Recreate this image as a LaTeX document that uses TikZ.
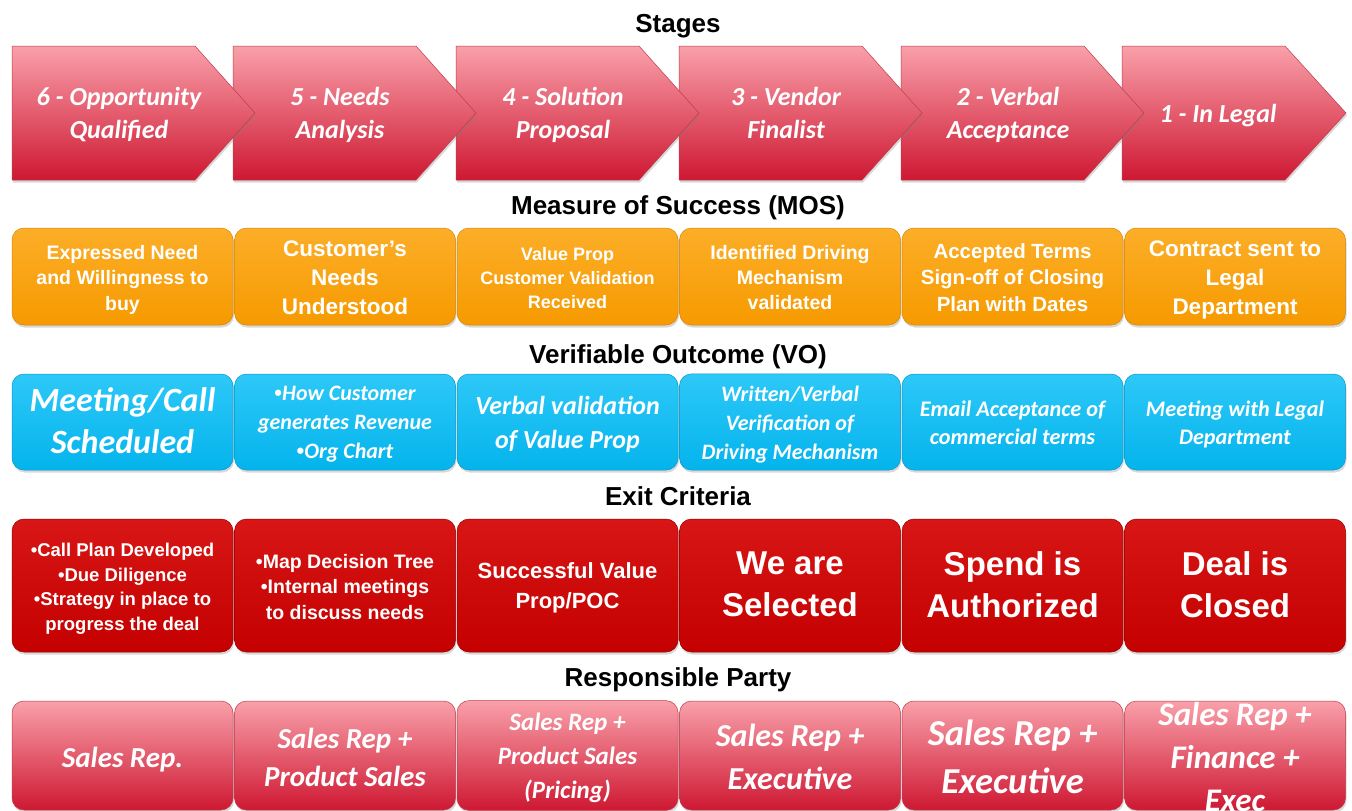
\documentclass[tikz,border=0pt]{standalone}
\usepackage{fontspec}
\setmainfont{Liberation Sans}
\newfontfamily\calib{Carlito}
\usetikzlibrary{shadows}

\newcommand{\fs}[2]{\fontsize{#1}{#2}\selectfont}
\newcommand{\bul}{{\rmfamily\upshape •}}
% extra room above the text, so that it sits a little below the middle
\newdimen\textdrop
\textdrop=10pt

% colours of the five bands
\definecolor{pinktop}{RGB}{249,160,170}
\definecolor{pinkmid}{RGB}{236,98,114}
\definecolor{pinkbot}{RGB}{206,24,50}
\definecolor{pinkline}{RGB}{190,60,75}
\definecolor{mostop}{RGB}{252,174,40}
\definecolor{mosbot}{RGB}{246,154,0}
\definecolor{mosline}{RGB}{214,134,10}
\definecolor{votop}{RGB}{45,200,248}
\definecolor{vobot}{RGB}{4,180,236}
\definecolor{voline}{RGB}{10,150,200}
\definecolor{exittop}{RGB}{216,22,22}
\definecolor{exitbot}{RGB}{196,0,0}
\definecolor{exitline}{RGB}{150,0,0}

\tikzset{
  hdr/.style={anchor=base, font=\bfseries\fs{26}{30}, text=black},
  shadowed/.style={drop shadow={shadow xshift=1pt, shadow yshift=-2.5pt, opacity=0.3}},
  sink/.code={\textdrop=#1},
  boxtext/.style={align=center, text=white,
    execute at begin node={\setbox0\hbox\bgroup\strut},
    execute at end node={\strut\egroup\rule{0pt}{\dimexpr\ht0+\textdrop\relax}\box0}},
  box/.style={boxtext, shadowed, rounded corners=12pt, minimum width=221pt, minimum height=#1,
    inner sep=2pt},
  stagearrow/.style={shadowed, top color=pinktop, middle color=pinkmid, bottom color=pinkbot,
    draw=pinkline, line width=0.5pt},
  stagetext/.style={boxtext, font=\calib\bfseries\itshape\fs{26}{33}},
  mosbox/.style={box=97pt, top color=mostop, bottom color=mosbot, draw=mosline, line width=0.5pt},
  vobox/.style={box=96pt, top color=votop, bottom color=vobot, draw=voline, line width=0.5pt},
  exitbox/.style={box=133pt, top color=exittop, bottom color=exitbot, draw=exitline, line width=0.5pt},
  partybox/.style={box=109pt, sink=16pt, top color=pinktop, middle color=pinkmid, bottom color=pinkbot,
    draw=pinkline, line width=0.5pt},
  ar/.style 2 args={font=\bfseries\fs{#1}{#2}},
  cb/.style 2 args={font=\calib\bfseries\itshape\fs{#1}{#2}}
}

\begin{document}
\begin{tikzpicture}[x=1pt,y=-1pt]
	\useasboundingbox[fill=white] (0,0) rectangle (1352,811);

	% stages, drawn right to left so each tip lies over the next one
	\shade[stagearrow] (1122,46) -- (1285,46) -- (1346,113) -- (1285,180) -- (1122,180) -- cycle;
	\shade[stagearrow] (901,46) -- (1084,46) -- (1144,113) -- (1084,180) -- (901,180) -- cycle;
	\shade[stagearrow] (679,46) -- (862,46) -- (922,113) -- (862,180) -- (679,180) -- cycle;
	\shade[stagearrow] (456,46) -- (639,46) -- (699,113) -- (639,180) -- (456,180) -- cycle;
	\shade[stagearrow] (233,46) -- (416,46) -- (476,113) -- (416,180) -- (233,180) -- cycle;
	\shade[stagearrow] (12,46) -- (195,46) -- (255,113) -- (195,180) -- (12,180) -- cycle;
	\node[stagetext] (st6) at (119,113) {6 - Opportunity\\Qualified};
	\node[stagetext] (st5) at (340,113) {5 - Needs\\Analysis};
	\node[stagetext] (st4) at (563,113) {4 - Solution\\Proposal};
	\node[stagetext] (st3) at (786,113) {3 - Vendor\\Finalist};
	\node[stagetext] (st2) at (1008,113) {2 - Verbal\\Acceptance};
	\node[stagetext] (st1) at (1218,111) {1 - In Legal};

	% band headings
	\node[hdr] (hstages) at (678,32) {Stages};
	\node[hdr] (hmos) at (678,214) {Measure of Success (MOS)};
	\node[hdr] (hvo) at (678,363) {Verifiable Outcome (VO)};
	\node[hdr] (hexit) at (678,505) {Exit Criteria};
	\node[hdr] (hparty) at (678,686) {Responsible Party};

	% measure of success
	\node[mosbox, ar={19.5}{25.5}] (mos6) at (122.5,276.5) {Expressed Need\\and Willingness to\\buy};
	\node[mosbox, ar={22.5}{29}] (mos5) at (345,276.5) {Customer’s\\Needs\\Understood};
	\node[mosbox, ar={18}{24}] (mos4) at (567.5,276.5) {Value Prop\\Customer Validation\\Received};
	\node[mosbox, ar={19.5}{25}] (mos3) at (790,276.5) {Identified Driving\\Mechanism\\validated};
	\node[mosbox, ar={20.5}{26.5}] (mos2) at (1012.5,276.5) {Accepted Terms\\Sign-off of Closing\\Plan with Dates};
	\node[mosbox, ar={22.5}{29}] (mos1) at (1235,276.5) {Contract sent to\\Legal\\Department};

	% verifiable outcome
	\node[vobox, cb={34}{42}] (vo6) at (122.5,422) {Meeting/Call\\Scheduled};
	\node[vobox, cb={22}{29}] (vo5) at (345,422) {\bul How Customer\\generates Revenue\\\bul Org Chart};
	\node[vobox, cb={26}{34}] (vo4) at (567.5,422) {Verbal validation\\of Value Prop};
	\node[vobox, cb={22}{29}] (vo3) at (790,422) {Written/Verbal\\Verification of\\Driving Mechanism};
	\node[vobox, cb={22.3}{28}] (vo2) at (1012.5,422) {Email Acceptance of\\commercial terms};
	\node[vobox, cb={22.2}{28}] (vo1) at (1235,422) {Meeting with Legal\\Department};

	% exit criteria
	\node[exitbox, ar={18.5}{24.5}] (ex6) at (122.5,585.5) {•Call Plan Developed\\•Due Diligence\\•Strategy in place to\\progress the deal};
	\node[exitbox, ar={19.5}{25.5}] (ex5) at (345,585.5) {•Map Decision Tree\\•Internal meetings\\to discuss needs};
	\node[exitbox, ar={22}{30}] (ex4) at (567.5,585.5) {Successful Value\\Prop/POC};
	\node[exitbox, ar={33}{42}] (ex3) at (790,585.5) {We are\\Selected};
	\node[exitbox, ar={33}{42}] (ex2) at (1012.5,585.5) {Spend is\\Authorized};
	\node[exitbox, ar={33}{42}] (ex1) at (1235,585.5) {Deal is\\Closed};

	% responsible party
	\node[partybox, sink=9pt, cb={29}{38}] (rp6) at (122.5,755.5) {Sales Rep.};
	\node[partybox, cb={29}{38}] (rp5) at (345,755.5) {Sales Rep +\\Product Sales};
	\node[partybox, sink=10pt, cb={25}{34}] (rp4) at (567.5,755.5) {Sales Rep +\\Product Sales\\(Pricing)};
	\node[partybox, cb={32}{43}] (rp3) at (790,755.5) {Sales Rep +\\Executive};
	\node[partybox, cb={36.5}{48}] (rp2) at (1012.5,755.5) {Sales Rep +\\Executive};
	% three lines here run over the top and bottom of the box
	\node[partybox] (rp1) at (1235,755.5) {};
	\node[boxtext, sink=16pt, cb={33}{43}] (rp1txt) at (rp1.center) {Sales Rep +\\Finance +\\Exec};
\end{tikzpicture}
\end{document}
